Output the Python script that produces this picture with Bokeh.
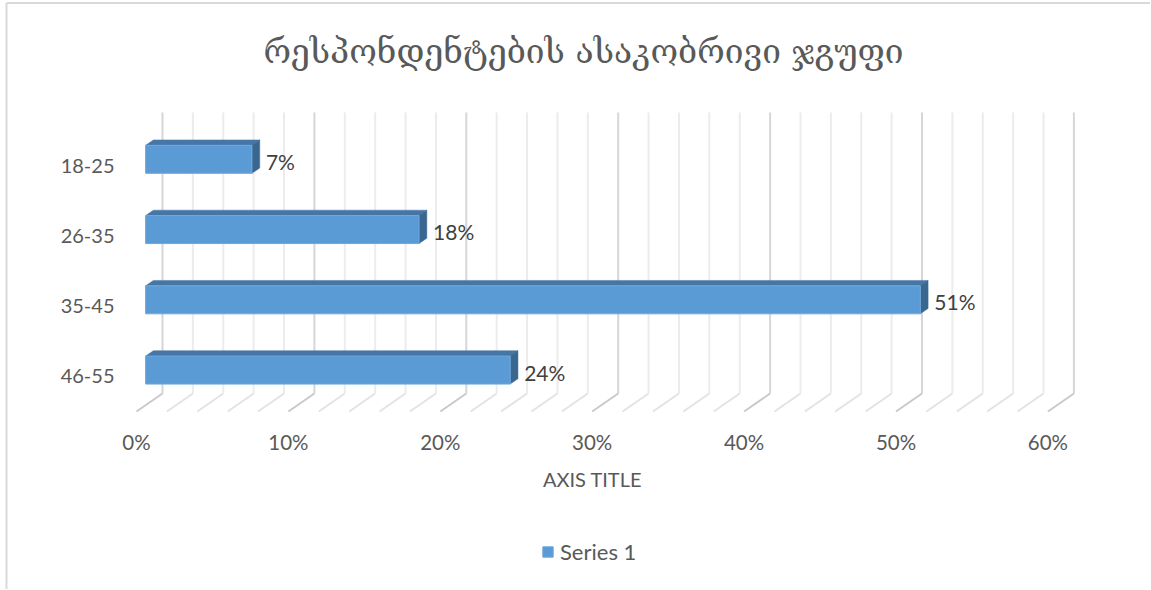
from bokeh.plotting import figure
from bokeh.models import (ColumnDataSource, FixedTicker, PrintfTickFormatter,
                          Legend, LegendItem, Range1d, Label)
from bokeh.embed import file_html
from bokeh.resources import INLINE

# ---------------- data ----------------
title_text = "რესპონდენტების ასაკობრივი ჯგუფი"
categories = ["18-25", "26-35", "35-45", "46-55"]
values = [7, 18, 51, 24]
value_labels = ["7%", "18%", "51%", "24%"]
x_ticks = [0, 10, 20, 30, 40, 50, 60]
x_title = "AXIS TITLE"
series_name = "Series 1"

# ---------------- style / geometry ----------------
FONT = "Lato"
TEXT = "#595959"
W, H = 1150, 589
ORIGIN_X, ORIGIN_Y = 136, 411   # canvas px of (0 %, floor front)
PX_X = 15.19          # px per percent
PX_Y = 70.25          # px per category
DEPTH_X = 26 / PX_X   # 3D depth vector in data units
DEPTH_Y = 18 / PX_Y
D0, D1 = 0.35, 0.65   # bar depth (front / back) as fraction of depth
BAR_H = 28 / PX_Y
GRID_STEP = 2
x_max = x_ticks[-1]


def dx(px):   # canvas px -> x data
    return (px - ORIGIN_X) / PX_X


def dy(py):   # canvas px -> y data
    return (ORIGIN_Y - py) / PX_Y


n = len(categories)
centers = [n - 0.5 - i for i in range(n)]

p = figure(width=W, height=H, output_backend="svg", toolbar_location=None,
           x_range=Range1d(dx(0), dx(W)), y_range=Range1d(dy(H), dy(0)),
           min_border_left=0, min_border_right=0, min_border_top=0, min_border_bottom=0,
           background_fill_color="white", border_fill_color="white")
p.outline_line_color = None
p.xgrid.visible = False
p.ygrid.visible = False

# chart-area border (left and top edges)
p.segment(x0=[dx(6), dx(6)], y0=[dy(H), dy(2.5)], x1=[dx(6), dx(W)], y1=[dy(2.5), dy(2.5)],
          line_color="#d9d9d9", line_width=2)

# gridlines (back wall + floor)
grid_vals = list(range(0, x_max + 1, GRID_STEP))
major = [g for g in grid_vals if g in x_ticks]
minor = [g for g in grid_vals if g not in x_ticks]
for gv, wall_col, floor_col in ((minor, "#ececec", "#e3e3e3"), (major, "#d6d6d6", "#c9c9c9")):
    p.segment(x0=[g + DEPTH_X for g in gv], y0=[DEPTH_Y] * len(gv),
              x1=[g + DEPTH_X for g in gv], y1=[n + DEPTH_Y] * len(gv),
              line_color=wall_col, line_width=2)
    p.segment(x0=gv, y0=[0] * len(gv),
              x1=[g + DEPTH_X for g in gv], y1=[DEPTH_Y] * len(gv),
              line_color=floor_col, line_width=2)

# bars
fx0, fy0 = D0 * DEPTH_X, D0 * DEPTH_Y
bx0, by0 = D1 * DEPTH_X, D1 * DEPTH_Y
front = ColumnDataSource(dict(
    left=[fx0] * n, right=[v + fx0 for v in values],
    bottom=[c + fy0 - BAR_H / 2 for c in centers], top=[c + fy0 + BAR_H / 2 for c in centers]))
tops_x, tops_y, side_x, side_y = [], [], [], []
for v, c in zip(values, centers):
    t0 = c + fy0 + BAR_H / 2
    t1 = c + by0 + BAR_H / 2
    b0 = c + fy0 - BAR_H / 2
    b1 = c + by0 - BAR_H / 2
    tops_x.append([fx0, v + fx0, v + bx0, bx0])
    tops_y.append([t0, t0, t1, t1])
    side_x.append([v + fx0, v + fx0, v + bx0, v + bx0])
    side_y.append([b0, t0, t1, b1])
p.patches(tops_x, tops_y, fill_color="#4676a6", line_color="#4676a6", line_width=0.5)
p.patches(side_x, side_y, fill_color="#3a6790", line_color="#3a6790", line_width=0.5)
front_r = p.quad(left="left", right="right", bottom="bottom", top="top", source=front,
                 fill_color="#5b9bd5", line_color="#6fa8dc", line_width=1)

# data labels
lab = ColumnDataSource(dict(x=[v + fx0 + 14 / PX_X for v in values],
                            y=[c + fy0 - 2 / PX_Y for c in centers], t=value_labels))
p.text(x="x", y="y", text="t", source=lab, text_font={"value": FONT}, text_font_size="21px",
       text_color="#404040", text_align="left", text_baseline="middle")

# value axis (below the floor)
xa = p.xaxis[0]
xa.fixed_location = dy(420)
xa.bounds = (dx(110), dx(1074))
xa.ticker = FixedTicker(ticks=x_ticks)
xa.formatter = PrintfTickFormatter(format="%d%%")
xa.axis_line_color = None
xa.major_tick_line_color = None
xa.minor_tick_line_color = None
xa.major_tick_out = 0
xa.major_label_standoff = 9
xa.major_label_text_font = FONT
xa.major_label_text_font_size = "20.5px"
xa.major_label_text_color = TEXT
xa.axis_label = x_title
xa.axis_label_text_font = FONT
xa.axis_label_text_font_size = "20px"
xa.axis_label_text_font_style = "normal"
xa.axis_label_text_color = TEXT
xa.axis_label_standoff = 10

# category axis
ya = p.yaxis[0]
ya.fixed_location = dx(114)
ya.ticker = FixedTicker(ticks=centers)
ya.major_label_overrides = {c: cat for c, cat in zip(centers, categories)}
ya.axis_line_color = None
ya.major_tick_line_color = None
ya.minor_tick_line_color = None
ya.major_tick_out = 0
ya.major_label_standoff = 0
ya.major_label_text_font = FONT
ya.major_label_text_font_size = "20px"
ya.major_label_text_color = TEXT

# chart title
p.add_layout(Label(x=dx(583), y=dy(51), text=title_text, text_align="center",
                   text_baseline="middle", text_font="DejaVu Serif",
                   text_font_size="33.5px", text_color=TEXT))

# legend (under the axis title)
legend = Legend(items=[LegendItem(label=series_name, renderers=[front_r])],
                location=(541, 24), orientation="horizontal", margin=0, padding=0,
                glyph_width=13, glyph_height=13, label_standoff=6,
                label_text_font=FONT, label_text_font_size="22px", label_text_color=TEXT,
                border_line_color=None, background_fill_alpha=0)
p.add_layout(legend, "center")

open("out.html", "w").write(file_html(p, INLINE))
